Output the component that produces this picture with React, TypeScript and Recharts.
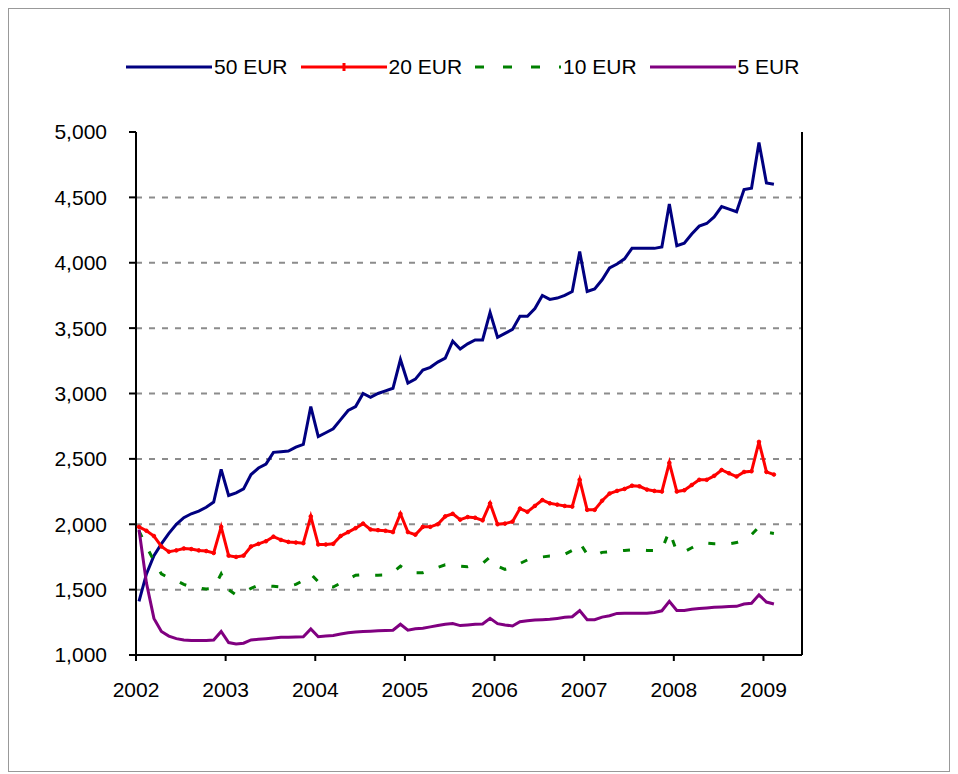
import React from 'react';
import { LineChart, Line, XAxis, YAxis, CartesianGrid } from 'recharts';

// monthly values, Jan 2002 .. Feb 2009 (one row per year)
const EUR50 = [
  1410, 1620, 1760, 1850, 1930, 2000, 2050, 2080, 2100, 2130, 2170, 2420,
  2220, 2240, 2270, 2380, 2430, 2460, 2550, 2555, 2560, 2590, 2610, 2900,
  2670, 2700, 2730, 2800, 2870, 2900, 3000, 2970, 3000, 3020, 3040, 3260,
  3080, 3110, 3180, 3200, 3240, 3270, 3400, 3340, 3380, 3410, 3410, 3620,
  3430, 3460, 3490, 3590, 3590, 3650, 3750, 3720, 3730, 3750, 3780, 4085,
  3780, 3800, 3870, 3960, 3990, 4030, 4110, 4110, 4110, 4110, 4120, 4450,
  4130, 4150, 4220, 4280, 4300, 4350, 4430, 4410, 4390, 4560, 4570, 4920,
  4610, 4600,
];

const EUR20 = [
  1980, 1950, 1910, 1830, 1790, 1800, 1815, 1810, 1800, 1795, 1780, 1980,
  1760, 1750, 1760, 1830, 1850, 1870, 1905, 1880, 1865, 1860, 1855, 2060,
  1845, 1845, 1850, 1910, 1940, 1970, 2005, 1960, 1955, 1950, 1940, 2080,
  1940, 1920, 1980, 1980, 2000, 2060, 2080, 2035, 2055, 2050, 2030, 2160,
  2000, 2005, 2020, 2120, 2095, 2140, 2185, 2160, 2150, 2140, 2135, 2340,
  2110, 2110, 2180, 2235, 2255, 2270, 2295, 2290, 2265, 2255, 2250, 2470,
  2250, 2260, 2300, 2340, 2340, 2370, 2415, 2390, 2365, 2400, 2405, 2630,
  2400, 2380,
];

const EUR10 = [
  1950, 1830, 1720, 1620, 1590, 1570, 1540, 1520, 1510, 1505, 1510, 1620,
  1500, 1460, 1480, 1510, 1535, 1530, 1525, 1520, 1525, 1540, 1570, 1620,
  1560, 1530, 1520, 1550, 1580, 1610, 1615, 1610, 1610, 1612, 1630, 1680,
  1640, 1630, 1630, 1650, 1670, 1690, 1690, 1680, 1675, 1690, 1700, 1750,
  1680, 1655, 1670, 1700, 1727, 1740, 1750, 1757, 1757, 1770, 1800, 1860,
  1770, 1760, 1785, 1790, 1795, 1800, 1805, 1805, 1800, 1800, 1805, 1950,
  1790, 1790, 1820, 1850, 1855, 1850, 1850, 1850, 1860, 1880, 1920, 1980,
  1940, 1930,
];

const EUR5 = [
  1960, 1550, 1280, 1180, 1145, 1125, 1115, 1110, 1110, 1110, 1115, 1180,
  1095, 1085, 1090, 1115, 1120, 1125, 1130, 1135, 1135, 1138, 1140, 1200,
  1140, 1145, 1150, 1160, 1170, 1175, 1180, 1182, 1185, 1188, 1190, 1235,
  1190, 1200, 1205, 1215, 1225, 1235, 1240, 1225, 1230, 1235, 1237, 1280,
  1240, 1230, 1222, 1255, 1262, 1268, 1270, 1273, 1280, 1288, 1293, 1340,
  1270, 1270, 1290, 1300, 1318, 1320, 1320, 1320, 1320, 1325, 1338, 1410,
  1340, 1340, 1350, 1355, 1360, 1365, 1368, 1370, 1372, 1390, 1395, 1460,
  1405, 1390,
];

const YEARS = [2002, 2003, 2004, 2005, 2006, 2007, 2008, 2009];
const Y_TICKS = [1000, 1500, 2000, 2500, 3000, 3500, 4000, 4500, 5000];
const GRID_VALUES = [1500, 2000, 2500, 3000, 3500, 4000, 4500];

const SERIES = [
  { key: 'e50', name: '50 EUR', color: '#000080', dash: undefined as string | undefined },
  { key: 'e20', name: '20 EUR', color: '#ff0000', dash: undefined },
  { key: 'e10', name: '10 EUR', color: '#008000', dash: '7 16' },
  { key: 'e5', name: '5 EUR', color: '#800080', dash: undefined },
];

// each month is plotted a little after the start of the month
const data = EUR50.map((v, i) => ({
  t: 2002 + (i + 0.4) / 12,
  e50: v,
  e20: EUR20[i],
  e10: EUR10[i],
  e5: EUR5[i],
}));

const FONT = '"Liberation Sans", Arial, sans-serif';
const tickStyle = { fill: '#000', fontSize: 21, fontFamily: FONT };
const fmt = (v: number) => v.toLocaleString('en-US');

const ChartLegend = () => (
  <div
    style={{
      position: 'absolute',
      left: 117,
      top: 46,
      display: 'flex',
      alignItems: 'center',
      fontFamily: FONT,
      fontSize: 21,
      color: '#000',
    }}
  >
    {SERIES.map((s) => (
      <div key={s.key} style={{ display: 'flex', alignItems: 'center', marginRight: 13 }}>
        <svg width={86} height={14}>
          <line
            x1={0}
            y1={7}
            x2={86}
            y2={7}
            stroke={s.color}
            strokeWidth={3}
            strokeDasharray={s.dash ? '9 19' : undefined}
          />
          {s.key === 'e20' && (
            <line x1={43} y1={3} x2={43} y2={11} stroke={s.color} strokeWidth={3} />
          )}
        </svg>
        <span style={{ marginLeft: 2, lineHeight: '24px' }}>{s.name}</span>
      </div>
    ))}
  </div>
);

export default function App() {
  return (
    <div
      style={{
        position: 'relative',
        width: 940,
        height: 762,
        border: '1px solid #999',
        background: '#fff',
      }}
    >
      <ChartLegend />
      <LineChart
        width={940}
        height={762}
        data={data}
        margin={{ top: 123, right: 67, bottom: 86, left: 0 }}
      >
        <CartesianGrid
          yAxisId="left"
          vertical={false}
          horizontalValues={GRID_VALUES}
          stroke="#8c8c8c"
          strokeWidth={2}
          strokeDasharray="6 7"
        />
        <XAxis
          dataKey="t"
          type="number"
          domain={[2002, 2009.43]}
          ticks={YEARS}
          tick={tickStyle}
          tickSize={6}
          tickMargin={21}
          height={30}
          axisLine={{ stroke: '#000', strokeWidth: 2 }}
          tickLine={{ stroke: '#000', strokeWidth: 2 }}
        />
        <YAxis
          yAxisId="left"
          domain={[1000, 5000]}
          ticks={Y_TICKS}
          tickFormatter={fmt}
          tick={tickStyle}
          width={127}
          tickSize={7}
          tickMargin={22}
          axisLine={{ stroke: '#000', strokeWidth: 2 }}
          tickLine={{ stroke: '#000', strokeWidth: 2 }}
        />
        <YAxis
          yAxisId="right"
          orientation="right"
          domain={[1000, 5000]}
          ticks={Y_TICKS}
          tickFormatter={fmt}
          tick={tickStyle}
          width={80}
          tickSize={7}
          tickMargin={16}
          axisLine={{ stroke: '#000', strokeWidth: 2 }}
          tickLine={{ stroke: '#000', strokeWidth: 2 }}
        />
        {SERIES.map((s) => (
          <Line
            key={s.key}
            yAxisId="left"
            type="linear"
            dataKey={s.key}
            name={s.name}
            stroke={s.color}
            strokeWidth={3}
            strokeDasharray={s.dash}
            dot={s.key === 'e20' ? { r: 1.8, fill: s.color, stroke: s.color, strokeWidth: 1 } : false}
            activeDot={false}
            isAnimationActive={false}
          />
        ))}
      </LineChart>
    </div>
  );
}
